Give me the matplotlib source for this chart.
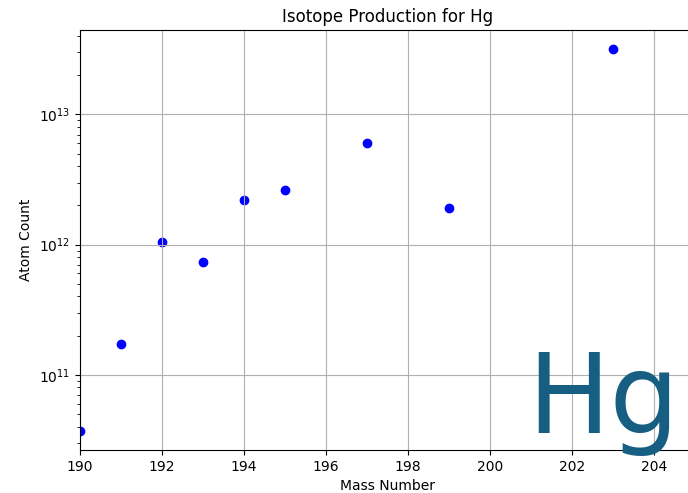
import matplotlib.pyplot as plt

mass = [190, 191, 192, 193, 194, 195, 197, 199, 203]
atoms = [3.7e10, 1.73e11, 1.04e12, 7.4e11, 2.22e12, 2.61e12, 6.08e12, 1.9e12, 3.18e13]
element = "Hg"

fig = plt.figure(figsize=(6.88, 4.93), dpi=100)
ax = fig.add_axes([80 / 688, 43 / 493, 615 / 688, 420 / 493])

ax.scatter(mass, atoms, color="blue")
ax.set_yscale("log")
ax.set_xlim(190, 205)
ax.set_xticks(range(190, 206, 2))
ax.set_title("Isotope Production for " + element)
ax.set_xlabel("Mass Number")
ax.set_ylabel("Atom Count")
ax.grid(True)

fig.text(527 / 688, 60 / 493, element, fontsize=79, color="#165e82",
         ha="left", va="baseline")

fig.savefig("out.png", dpi=100)
